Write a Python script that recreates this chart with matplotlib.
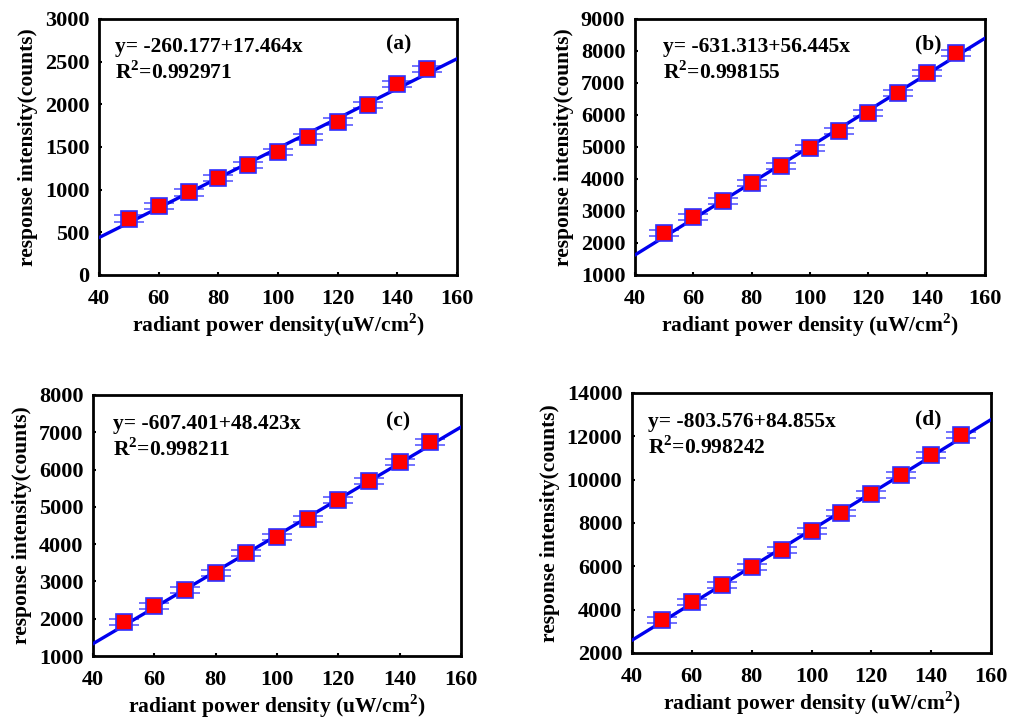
import numpy as np
import matplotlib
matplotlib.use("Agg")
import matplotlib.pyplot as plt

plt.rcParams['font.family'] = ['Liberation Serif', 'DejaVu Serif']
plt.rcParams['font.weight'] = 'bold'
plt.rcParams['mathtext.fontset'] = 'custom'
plt.rcParams['mathtext.rm'] = 'Liberation Serif:bold'
plt.rcParams['mathtext.bf'] = 'Liberation Serif:bold'

# power density (uW/cm2)
power = [50, 60, 70, 80, 90, 100, 110, 120, 130, 140, 150]

# response intensity (counts)
resp_a = [662, 811, 967, 1132, 1289, 1445, 1622, 1798, 1994, 2240, 2413]
resp_b = [2323, 2823, 3313, 3865, 4417, 4969, 5500, 6073, 6677, 7302, 7948]
resp_c = [1903, 2341, 2761, 3235, 3753, 4183, 4674, 5184, 5702, 6212, 6748]
resp_d = [3535, 4348, 5146, 5959, 6757, 7647, 8445, 9320, 10210, 11130, 12051]

# fit parameters as printed on each panel
intercepts = [-260.177, -631.313, -607.401, -803.576]
slopes = [17.464, 56.445, 48.423, 84.855]
r2 = ['0.992971', '0.998155', '0.998211', '0.998242']
panel_tags = ['(a)', '(b)', '(c)', '(d)']

ylims = [(0, 3000), (1000, 9000), (1000, 8000), (2000, 14000)]
ysteps = [500, 1000, 1000, 2000]
xlabels = ['radiant power density(uW/cm$^2$)',
           'radiant power density (uW/cm$^2$)',
           'radiant power density (uW/cm$^2$)',
           'radiant power density (uW/cm$^2$)']

# axes rectangles in pixels: left, right, top, bottom
W, H = 1011, 720
boxes = [(99, 457, 19, 275), (635, 985, 19, 275),
         (93, 461, 395, 656), (632, 991, 393, 653)]
eq_x = [0.045, 0.08, 0.054, 0.045]
tag_x = [0.836, 0.837, 0.83, 0.825]

fig = plt.figure(figsize=(W / 100, H / 100), dpi=100)

all_resp = [resp_a, resp_b, resp_c, resp_d]
for i, resp in enumerate(all_resp):
    l, r, t, b = boxes[i]
    ax = fig.add_axes([l / W, 1 - b / H, (r - l) / W, (b - t) / H])

    # fitted line
    xs = np.array([40, 160])
    ax.plot(xs, intercepts[i] + slopes[i] * xs, color='#0000ee', lw=2.4, zorder=3)

    # error bars and markers
    yerr = (ylims[i][1] - ylims[i][0]) * 0.012
    ax.errorbar(power, resp, yerr=yerr, fmt='none', ecolor='#5a5aff',
                elinewidth=1.0, capsize=11, capthick=1.2, zorder=2)
    ax.plot(power, resp, 's', color='#ff0000', markersize=11,
            markeredgecolor='#3030ff', markeredgewidth=1.2, zorder=4)

    ax.set_xlim(40, 160)
    ax.set_ylim(*ylims[i])
    ax.set_xticks(np.arange(40, 161, 20))
    ax.set_yticks(np.arange(ylims[i][0], ylims[i][1] + 1, ysteps[i]))
    ax.tick_params(direction='in', length=2.5, width=1.5, labelsize=16, pad=7)
    ax.tick_params(axis='x', pad=10)
    for lab in ax.get_xticklabels() + ax.get_yticklabels():
        lab.set_fontweight('bold')
    for sp in ax.spines.values():
        sp.set_linewidth(2)

    ax.set_xlabel(xlabels[i], fontsize=15.5, fontweight='bold', labelpad=2)
    ax.set_ylabel('response intensity(counts)', fontsize=15.5, fontweight='bold',
                  labelpad=5)

    ax.text(eq_x[i], 0.89, 'y= %.3f+%.3fx' % (intercepts[i], slopes[i]),
            transform=ax.transAxes, fontsize=15.5, fontweight='bold', va='center')
    ax.text(eq_x[i], 0.79, 'R$^2$=' + r2[i],
            transform=ax.transAxes, fontsize=15.5, fontweight='bold', va='center')
    ax.text(tag_x[i], 0.9, panel_tags[i], transform=ax.transAxes,
            fontsize=15.5, fontweight='bold', va='center', ha='center')

fig.savefig('out.png', dpi=100)
